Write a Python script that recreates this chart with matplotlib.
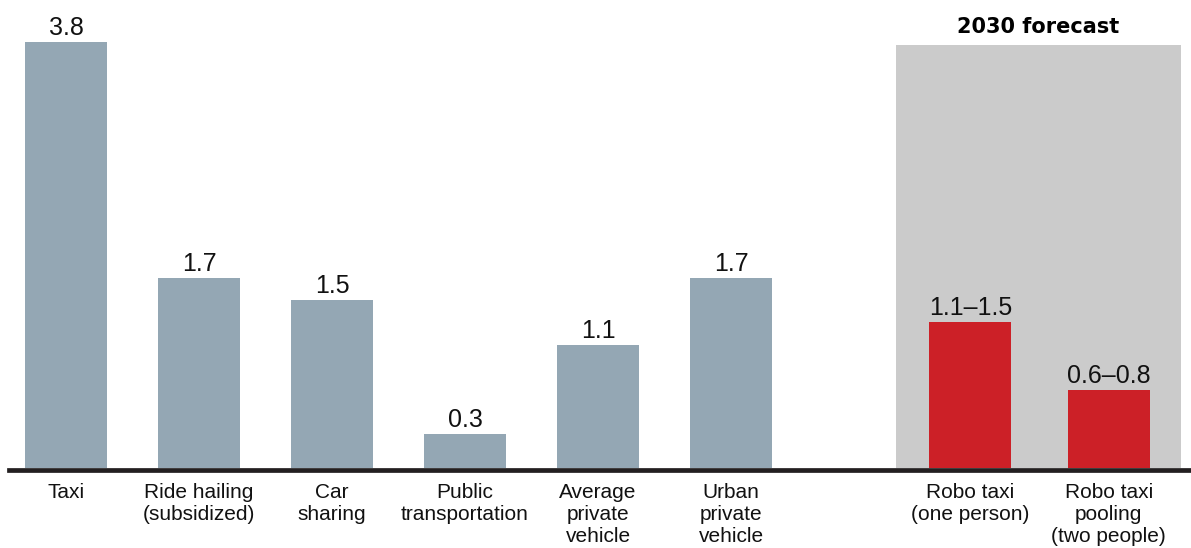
import numpy as np
import matplotlib
matplotlib.use('Agg')
import matplotlib.pyplot as plt
from matplotlib.patches import Rectangle

plt.rcParams['font.family'] = ['Liberation Sans', 'DejaVu Sans']

categories = ["Taxi", "Ride hailing\n(subsidized)", "Car\nsharing",
              "Public\ntransportation", "Average\nprivate\nvehicle",
              "Urban\nprivate\nvehicle", "Robo taxi\n(one person)",
              "Robo taxi\npooling\n(two people)"]
low = [3.8, 1.7, 1.5, 0.3, 1.1, 1.7, 1.1, 0.6]
high = [3.8, 1.7, 1.5, 0.3, 1.1, 1.7, 1.5, 0.8]
forecast = [False, False, False, False, False, False, True, True]

heights = [(a + b) / 2 for a, b in zip(low, high)]
labels = [f"{a}" if a == b else f"{a}\u2013{b}" for a, b in zip(low, high)]

# forecast bars sit apart from the others
xpos = np.array([0, 1, 2, 3, 4, 5, 6.8, 7.84])
colors = ["#cc2027" if f else "#94a7b4" for f in forecast]

fig = plt.figure(figsize=(11.91, 5.48), dpi=100)
ax = fig.add_axes([0, 0, 1, 1])
ax.set_xlim(-66 / 133, (1191 - 66) / 133)
ax.set_ylim(-80 / 112, (548 - 80) / 112)
ax.axis('off')

# grey panel behind the forecast bars
ax.add_patch(Rectangle((6.241, 0), 2.142, 3.777, facecolor="#cbcbcb",
                       edgecolor='none', zorder=0))
ax.text(7.31, 3.884, "2030 forecast", ha='center', va='baseline',
        fontsize=15, fontweight='bold', color='black',
        family=['DejaVu Sans'])

ax.bar(xpos, heights, width=0.617, color=colors, zorder=2)
for x, h, lab in zip(xpos, heights, labels):
    ax.text(x, h + 0.062, lab, ha='center', va='baseline', fontsize=18,
            color='#111111')
for x, cat in zip(xpos, categories):
    ax.text(x, -0.13, cat, ha='center', va='top', fontsize=15,
            color='#111111', linespacing=1.22)

ax.axhline(-0.02, xmin=9 / 1191, xmax=1, color='#231f20', linewidth=3.4,
           zorder=3)

fig.savefig('out.png', dpi=100)
